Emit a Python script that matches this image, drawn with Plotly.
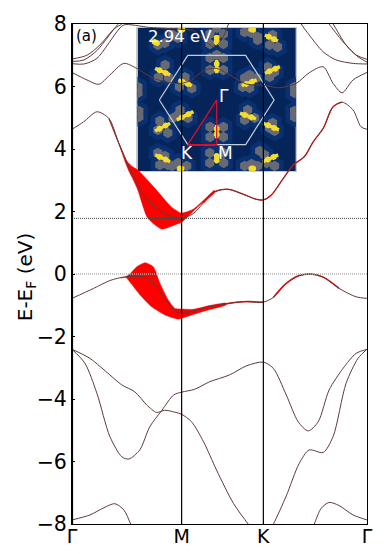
import plotly.graph_objects as go

# ---- data: path position along Γ-M-K-Γ, band energies in eV ----
tick_pos = [0, 110, 192, 296]
tick_text = ["Γ", "M", "K", "Γ"]
y_ticks = [-8, -6, -4, -2, 0, 2, 4, 6, 8]
fermi_levels = [0.0, 1.78]

vb_x = [0, 21.7, 38, 53, 67, 77, 87, 97, 103, 110, 122, 138, 155, 172, 192, 202, 215, 228, 240, 252, 268, 285, 296]
vb_e = [-0.78, -0.46, -0.21, -0.09, -0.07, -0.17, -0.51, -0.94, -1.18, -1.26, -1.18, -1.05, -0.95, -0.885, -0.9, -0.75, -0.30, -0.05, 0, -0.1, -0.46, -0.73, -0.78]
vb_top_x = [49, 54, 59, 65, 73.3, 81.6, 88.3, 96.6, 103.3, 109.6, 122, 138, 155]
vb_top_e = [-0.13, -0.09, 0.03, 0.23, 0.36, 0.23, -0.30, -0.83, -1.10, -1.12, -1.13, -1.01, -0.93]
vb_bot_x = [49, 54, 60, 68.3, 80, 93.3, 106.6, 120, 136.6, 155]
vb_bot_e = [-0.13, -0.11, -0.33, -0.67, -1.05, -1.31, -1.44, -1.31, -1.15, -0.98]

cb_x = [0, 11.7, 25, 37, 47, 57, 62, 72, 85, 98, 110, 122, 132, 143, 157, 172, 185, 192, 200, 212, 222, 233, 242, 252, 262, 271, 282, 290, 296]
cb_e = [4.63, 4.87, 5.19, 4.98, 4.18, 3.43, 3.11, 2.53, 2.10, 1.86, 1.78, 1.94, 2.28, 2.63, 2.71, 2.55, 2.39, 2.37, 2.53, 3.06, 3.49, 3.75, 4.23, 4.66, 5.35, 5.50, 5.25, 4.71, 4.63]
cb_top_x = [48, 53, 60, 66, 83, 100, 110, 122, 132, 143]
cb_top_e = [4.1, 3.7, 3.45, 3.33, 2.75, 2.14, 1.95, 2.08, 2.36, 2.68]
cb_bot_x = [48, 53, 57, 61, 66, 76, 90, 103, 110, 126, 143]
cb_bot_e = [4.1, 3.62, 3.3, 3.05, 2.69, 1.79, 1.44, 1.57, 1.66, 2.14, 2.60]

u1_x = [0, 15, 27, 38, 52, 65, 82, 102, 110, 120, 132, 145, 158, 175, 192, 208, 225, 238, 252, 262, 271, 282, 296]
u1_e = [6.45, 6.21, 6.07, 6.37, 6.74, 6.58, 6.26, 6.10, 6.10, 6.21, 6.51, 6.58, 6.37, 6.08, 6.04, 5.96, 6.10, 6.44, 6.63, 6.10, 5.80, 6.21, 6.45]

l1_x = [0, 15, 28, 38, 46, 50]
l1_e = [6.88, 7.00, 7.33, 7.70, 7.99, 8.2]
l2_x = [0, 12, 25, 35, 43, 50, 55]
l2_e = [6.80, 6.85, 7.15, 7.54, 7.86, 8.0, 8.2]
l3_x = [0, 12, 25, 35, 45, 52, 78, 110, 122, 132, 142, 150, 157, 160]
l3_e = [6.73, 6.72, 6.9, 7.3, 7.75, 7.97, 7.89, 7.83, 7.78, 7.51, 7.27, 7.49, 8.0, 8.3]
r1_x = [254, 258, 272, 285, 296]
r1_e = [8.2, 8.0, 7.43, 7.01, 6.87]
r2_x = [258, 262, 275, 287, 296]
r2_e = [8.2, 8.0, 7.33, 6.95, 6.78]
r3_x = [226, 230, 238, 252, 265, 282, 296]
r3_e = [8.3, 8.0, 7.65, 7.11, 6.85, 6.74, 6.72]

b1_x = [0, 18, 38, 50, 63, 75, 85, 93, 103, 110, 120, 132, 145, 162, 177, 192, 202, 215, 228, 238, 252, 262, 275, 287, 296]
b1_e = [-2.41, -2.70, -3.23, -3.55, -3.77, -4.19, -4.43, -4.36, -4.42, -4.49, -4.73, -5.37, -6.27, -7.34, -8.01, -8.6, -8.01, -7.1, -6.06, -5.63, -5.71, -5.2, -3.5, -2.7, -2.41]
b2_x = [0, 13, 25, 38, 50, 57, 68, 78, 90, 102, 110, 123, 138, 158, 175, 192, 202, 215, 227, 237, 247, 258, 272, 285, 296]
b2_e = [-2.41, -2.86, -3.82, -5.2, -5.85, -5.92, -5.63, -4.89, -4.37, -3.87, -3.78, -3.69, -3.45, -3.23, -2.94, -2.82, -3.02, -3.87, -4.73, -5.02, -4.73, -3.71, -3.02, -2.54, -2.41]
b3_x = [0, 18, 32, 43, 52, 59, 64]
b3_e = [-7.87, -7.71, -7.48, -7.35, -7.55, -8.01, -8.4]
b4_x = [238, 243, 250, 258, 268, 282, 296]
b4_e = [-8.4, -8.01, -7.5, -7.31, -7.41, -7.71, -7.87]

# ---- inset map (Brillouin-zone pattern) ----
inset_x_range = [-79.4, 79.3]
inset_y_range = [-71, 72]
bz_x = [-57.5, -29, 29, 57.5, 29, -29, -57.5]
bz_y = [0, 44.6, 44.6, 0, -44.6, -44.6, 0]
path_x = [0, 0, -29, 0]
path_y = [0, -44.6, -44.6, 0]

hot_segments = [
    (-61.7, 31.7, -46.7, 25), (-38.4, 20, -25, 14.3), (25, 14.3, 40, 20), (48.3, 26.7, 63.3, 33.3),
    (-40, -20, -23.4, -11.7), (-61.7, -31, -46.7, -23.3), (23.3, -13.3, 39.3, -19), (46.6, -23.3, 62.3, -30),
    (-61.7, -55, -46.7, -61.7), (46.6, -61.7, 61.6, -55), (-64, 59, -58, 56), (48.3, 65, 61.3, 59),
    (33, 71, 38, 70), (-38, 71, -33, 70), (-38.7, -68.7, -33.7, -68.7), (33.3, -68.7, 38, -68.7),
    (0, 65, 0, 55), (0, 40, 0, 26.7), (0, -25, 0, -38.3), (0, -53.3, 0, -63.3),
]
grey_x = [-51.7, -58.4, -48.4, -31.7, -37.4, -25, 28, 33, 40, 26, 33, 51, 58, 53, 56, 53, 61, 28, 35, 41, 41,
          -52, -59, -39, -44, -6.7, 6.7, -6.7, 6.7, 0, -6.7, 6.7, -6.7, 6.7, 0,
          -6.7, 6.7, -6.7, 6.7, -7, 7, -7, 7,
          -36.7, -38.7, -43.7, -28.7, -57, -59, -49, 31, 38, 28, 56, 53, 58,
          -59, -52, -57, -49, 48, 50, 58, 43, -44.7, -30, -38.7, 28, 41, 35,
          -79, -79, -78, -78, 78, 78, 78, 78]
grey_y = [35, 22.7, 22.7, 22.7, 13.3, 11.7, 22, 25, 22, 13, 12, 33, 28, 23, 65, 55, 53, 68, 67, 63, 60,
          57, 55, 62, 65, 66, 66, 56, 56, 72, 42, 42, 30, 30, 45,
          -27, -27, -37, -37, -53, -53, -63, -63,
          -10, -15, -18, -18, -21, -30, -33, -10, -18, -20, -23, -28, -31,
          -53, -56, -65, -65, -55, -63, -66, -51, -66, -66, -63, -66, -66, -64,
          13, 7, -11, -17, 13, 7, -11, -17]

BAND = "#5f3b3b"
RED = "#ff0000"
MAIN = dict(xaxis="x2", yaxis="y2", mode="lines", hoverinfo="skip", showlegend=False)
INSET = dict(xaxis="x", yaxis="y", hoverinfo="skip", showlegend=False)

fig = go.Figure()

# inset (lowest subplot)
fig.add_trace(go.Scatter(x=grey_x, y=grey_y, mode="markers",
                         marker=dict(symbol="hexagon", size=21, color="#093070", line_width=0), **INSET))
fig.add_trace(go.Scatter(x=grey_x, y=grey_y, mode="markers",
                         marker=dict(symbol="hexagon", size=10.5, color="#676a74", line_width=0), **INSET))
hot_x, hot_y, blob_x, blob_y = [], [], [], []
for a, b, c, d in hot_segments:
    hot_x += [a, c, None]
    hot_y += [b, d, None]
    blob_x += [a + (c - a) * 0.3, a + (c - a) * 0.7]
    blob_y += [b + (d - b) * 0.3, b + (d - b) * 0.7]
fig.add_trace(go.Scatter(x=hot_x, y=hot_y, mode="lines", line=dict(color="#f6dc2f", width=3.5), **INSET))
fig.add_trace(go.Scatter(x=blob_x, y=blob_y, mode="markers",
                         marker=dict(symbol="hexagon", size=6.5, color="#f6dc2f", line_width=0), **INSET))
fig.add_trace(go.Scatter(x=bz_x, y=bz_y, mode="lines", line=dict(color="#c4cfdc", width=1.2), **INSET))
fig.add_trace(go.Scatter(x=path_x, y=path_y, mode="lines", line=dict(color="#d8102a", width=1.3), **INSET))

# red weight envelopes
for tx, te, bx, be in [(vb_top_x, vb_top_e, vb_bot_x, vb_bot_e), (cb_top_x, cb_top_e, cb_bot_x, cb_bot_e)]:
    fig.add_trace(go.Scatter(x=tx + bx[::-1], y=te + be[::-1], fill="toself", fillcolor=RED,
                             line=dict(color=RED, width=0.5, shape="spline", smoothing=0.6), **MAIN))

# thin red along the weighted bands
fig.add_trace(go.Scatter(x=cb_x[3:6], y=cb_e[3:6], line=dict(color="#b01010", width=1.2, shape="spline"), **MAIN))
fig.add_trace(go.Scatter(x=cb_x[12:26], y=cb_e[12:26], line=dict(color=RED, width=1.3, shape="spline"), **MAIN))
fig.add_trace(go.Scatter(x=vb_x[10:15], y=vb_e[10:15], line=dict(color=RED, width=1.5, shape="spline"), **MAIN))
fig.add_trace(go.Scatter(x=vb_x[15:21], y=vb_e[15:21], line=dict(color=RED, width=1.5, shape="spline"), **MAIN))

# bands
for bx, be in [(vb_x, vb_e), (cb_x, cb_e), (u1_x, u1_e), (l1_x, l1_e), (l2_x, l2_e), (l3_x, l3_e),
               (r1_x, r1_e), (r2_x, r2_e), (r3_x, r3_e), (b1_x, b1_e), (b2_x, b2_e), (b3_x, b3_e), (b4_x, b4_e)]:
    fig.add_trace(go.Scatter(x=bx, y=be, line=dict(color=BAND, width=1, shape="spline", smoothing=0.8), **MAIN))

# reference lines
fig.add_trace(go.Scatter(x=[0, 296], y=[fermi_levels[0]] * 2, line=dict(color="#b5b5b5", width=1.6, dash="1px,1px"), **MAIN))
fig.add_trace(go.Scatter(x=[0, 296], y=[fermi_levels[1]] * 2, line=dict(color="#444444", width=1, dash="1px,1px"), **MAIN))
for p in tick_pos[1:3]:
    fig.add_trace(go.Scatter(x=[p, p], y=[-8, 8], line=dict(color="black", width=1.2), **MAIN))
fig.add_trace(go.Scatter(x=[0, 0], y=[-8, 8], cliponaxis=False, line=dict(color="black", width=2.2), **MAIN))

W, H = 384, 554
L, R, T, B = 71.7, 367.3, 24, 524.3
PW, PH = R - L, B - T

fig.update_layout(
    width=W, height=H, autosize=False,
    margin=dict(l=L, r=W - R, t=T, b=H - B, pad=0),
    paper_bgcolor="white", plot_bgcolor="rgba(0,0,0,0)",
    font=dict(family="DejaVu Sans", color="black"),
    showlegend=False,
    xaxis=dict(domain=[(137.3 - L) / PW, (296 - L) / PW], range=inset_x_range, anchor="y", automargin=False,
               showgrid=False, zeroline=False, showticklabels=False, ticks="",
               showline=True, mirror=True, linecolor="#c6cad0", linewidth=1),
    yaxis=dict(domain=[(B - 171) / PH, (B - 28) / PH], range=inset_y_range, anchor="x", automargin=False,
               showgrid=False, zeroline=False, showticklabels=False, ticks="",
               showline=True, mirror=True, linecolor="#c6cad0", linewidth=1),
    xaxis2=dict(domain=[0, 1], range=[0, 296], anchor="y2", showgrid=False, zeroline=False, automargin=False,
                tickmode="array", tickvals=tick_pos, ticktext=tick_text, ticklabelstandoff=-5,
                ticks="inside", ticklen=3, tickcolor="black", tickfont=dict(size=19),
                showline=True, mirror=True, linecolor="black", linewidth=1),
    yaxis2=dict(domain=[0, 1], range=[-8, 8], anchor="x2", showgrid=False, zeroline=False, automargin=False,
                tickmode="array", tickvals=y_ticks, ticktext=[str(v).replace("-", "−") for v in y_ticks],
                ticks="inside", ticklen=3, tickcolor="black", tickfont=dict(size=20.5),
                showline=True, mirror=True, linecolor="black", linewidth=1),
    shapes=[dict(type="rect", xref="x", yref="y", x0=inset_x_range[0], x1=inset_x_range[1],
                 y0=inset_y_range[0], y1=inset_y_range[1], fillcolor="#05245a", line_width=0, layer="below")],
    annotations=[
        dict(text="E-E<sub>F</sub> (eV)", xref="paper", yref="paper", x=(25 - L) / PW, y=(B - 277) / PH,
             showarrow=False, font=dict(size=20), textangle=-90, xanchor="center", yanchor="middle"),
        dict(text="(a)", xref="paper", yref="paper", x=(86.5 - L) / PW, y=(B - 36.5) / PH, showarrow=False,
             font=dict(size=15), xanchor="center", yanchor="middle"),
        dict(text="2.94 eV", xref="x", yref="y", x=-36.7, y=63.3, showarrow=False,
             font=dict(size=16.5, color="white"), xanchor="center", yanchor="middle"),
        dict(text="Γ", xref="x", yref="y", x=7.6, y=4, showarrow=False,
             font=dict(size=17, color="white"), xanchor="center", yanchor="middle"),
        dict(text="K", xref="x", yref="y", x=-29.4, y=-53.3, showarrow=False,
             font=dict(size=17, color="white"), xanchor="center", yanchor="middle"),
        dict(text="M", xref="x", yref="y", x=9, y=-52.7, showarrow=False,
             font=dict(size=17, color="white"), xanchor="center", yanchor="middle"),
    ],
)

fig.write_html("out.html", config=dict(displayModeBar=False),
               post_script="document.body.style.margin='0';")
